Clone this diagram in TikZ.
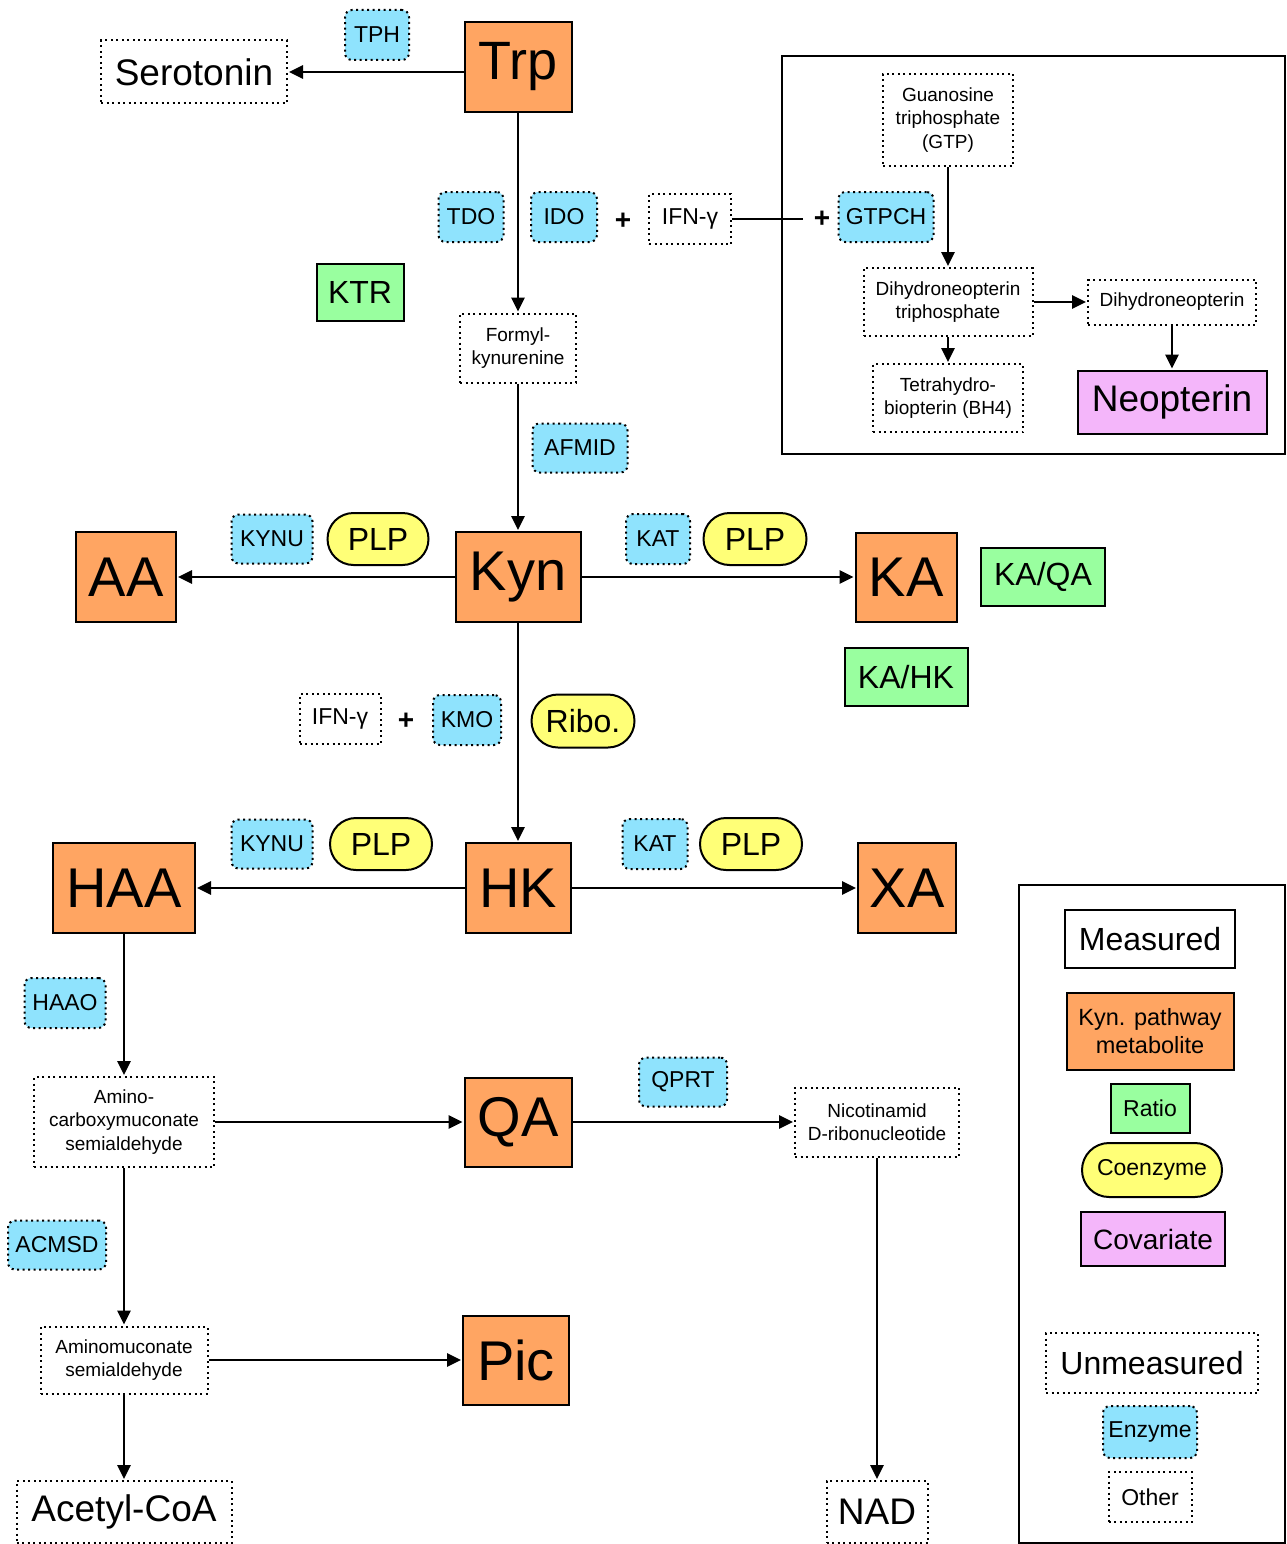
\documentclass[tikz,border=0pt]{standalone}
\usepackage{fontspec}
\setmainfont{Liberation Sans}
\usetikzlibrary{shapes,arrows.meta}

\definecolor{kynorange}{HTML}{FFA562}
\definecolor{ratiogreen}{HTML}{99FF9F}
\definecolor{coyellow}{HTML}{FFFF77}
\definecolor{covpink}{HTML}{F4B6FA}
\definecolor{enzblue}{HTML}{8FE3FD}

\newcommand{\fs}[2]{\fontsize{#1}{#2}\selectfont}

\begin{document}
\begin{tikzpicture}[x=1pt,y=-1pt,>={Triangle[length=14pt,width=13pt]},
  every node/.style={inner sep=0pt},
  sized/.style 2 args={minimum width=#1pt,minimum height=#2pt},
  met/.style={draw,line width=2pt,fill=kynorange,font=\fs{56}{60}},
  ratio/.style={draw,line width=2pt,fill=ratiogreen,font=\fs{32}{36}},
  coenz/.style={draw,line width=2pt,fill=coyellow,rounded rectangle,font=\fs{32}{36}},
  cov/.style={draw,line width=2pt,fill=covpink},
  enz/.style={draw,dash pattern=on 2pt off 3.5pt,line width=2pt,fill=enzblue,rounded corners=7pt,font=\fs{23}{27}},
  other/.style={draw,dash pattern=on 2pt off 3.5pt,line width=2pt,align=center,font=\fs{19}{23.5}},
  plus/.style={font=\bfseries\fs{28}{30}},
  flow/.style={->,line width=2.8pt,shorten >=1pt}]
\useasboundingbox (0,0) rectangle (1287,1544);

% top
\node[met,sized={107}{90},font=\fs{54}{58}](trp) at (518,67) {Trp};
\node[other,sized={186}{63},font=\fs{37}{40}](sero) at (194,72) {Serotonin};
\node[enz,sized={64}{50}](tph) at (377,35) {TPH};
\node[enz,sized={65}{50}](tdo) at (471,217) {TDO};
\node[enz,sized={66}{50}](ido) at (564,217) {IDO};
\node[plus](p1) at (623,221) {+};
\node[other,sized={82}{50},font=\fs{23}{27}](ifn1) at (690,219) {IFN-γ};
\coordinate (ifnend) at (803,219);
\node[plus](p2) at (822,219) {+};
\node[enz,sized={95}{50}](gtpch) at (886,217) {GTPCH};
\node[ratio,sized={87}{57}](ktr) at (360,292) {KTR};
\node[other,sized={116}{69}](formyl) at (518,348) {Formyl-\\kynurenine};
\node[enz,sized={95}{49}](afmid) at (580,448) {AFMID};

% pterin box
\node[draw,line width=2pt,sized={503}{398}](pterin) at (1033.5,255) {};
\node[other,sized={130}{92}](gtp) at (948,120) {Guanosine\\triphosphate\\(GTP)};
\node[other,sized={169}{68}](dhntp) at (948,302) {Dihydroneopterin\\triphosphate};
\node[other,sized={168}{45}](dhn) at (1172,302) {Dihydroneopterin};
\node[other,sized={150}{68}](bh4) at (948,398) {Tetrahydro-\\biopterin (BH4)};
\node[cov,sized={189}{63},font=\fs{37}{40}](neo) at (1172,402) {Neopterin};

% Kyn row
\node[met,sized={125}{90}](kyn) at (518,577) {Kyn};
\node[met,sized={100}{90}](aa) at (126,577) {AA};
\node[met,sized={101}{89}](ka) at (906,577) {KA};
\node[enz,sized={81}{49}](kynu1) at (272,539) {KYNU};
\node[coenz,sized={101}{52}](plp1) at (378,539) {PLP};
\node[enz,sized={64}{50}](kat1) at (658,539) {KAT};
\node[coenz,sized={103}{52}](plp2) at (755,539) {PLP};
\node[ratio,sized={124}{58}](kaqa) at (1043,577) {KA/QA};
\node[ratio,sized={123}{58}](kahk) at (906,677) {KA/HK};
\node[other,sized={81}{50},font=\fs{23}{27}](ifn2) at (340,719) {IFN-γ};
\node[plus](p3) at (406,721) {+};
\node[enz,sized={68}{50}](kmo) at (467,720) {KMO};
\node[coenz,sized={103}{53}](ribo) at (583,721) {Ribo.};

% HK row
\node[met,sized={105}{90}](hk) at (518,888) {HK};
\node[met,sized={142}{90}](haa) at (124,888) {HAA};
\node[met,sized={98}{90}](xa) at (907,888) {XA};
\node[enz,sized={81}{49}](kynu2) at (272,844) {KYNU};
\node[coenz,sized={102}{52}](plp3) at (381,844) {PLP};
\node[enz,sized={65}{50}](kat2) at (655,844) {KAT};
\node[coenz,sized={102}{52}](plp4) at (751,844) {PLP};

% lower part
\node[enz,sized={81}{50}](haao) at (65,1003) {HAAO};
\node[other,sized={180}{90}](amino) at (124,1122) {Amino-\\carboxymuconate\\semialdehyde};
\node[met,sized={107}{89}](qa) at (518,1122) {QA};
\node[enz,sized={88}{49}](qprt) at (683,1082) {QPRT};
\node[other,sized={164}{69}](nicot) at (877,1122) {Nicotinamid\\D-ribonucleotide};
\node[enz,sized={98}{49}](acmsd) at (57,1245) {ACMSD};
\node[other,sized={167}{67}](amuc) at (124,1360) {Aminomuconate\\semialdehyde};
\node[met,sized={106}{89}](pic) at (516,1360) {Pic};
\node[other,sized={215}{62},font=\fs{37}{40}](acoa) at (124,1512) {Acetyl-CoA};
\node[other,sized={101}{62},font=\fs{37}{40}](nad) at (877,1512) {NAD};

% legend
\node[draw,line width=2pt,sized={266}{658}](legend) at (1152,1214) {};
\node[draw,line width=2pt,sized={170}{58},font=\fs{32}{36}](lmeas) at (1150,939) {Measured};
\node[met,sized={167}{77},font=\fs{23.5}{28},align=center](lkyn) at (1150,1031) {Kyn. pathway\\metabolite};
\node[ratio,sized={79}{49},font=\fs{23}{27}](lratio) at (1150,1108) {Ratio};
\node[coenz,sized={140}{54},font=\fs{23}{27}](lcoenz) at (1152,1170) {Coenzyme};
\node[cov,sized={144}{54},font=\fs{28}{32}](lcov) at (1153,1239) {Covariate};
\node[other,sized={212}{60},font=\fs{32}{36}](lunmeas) at (1152,1363) {Unmeasured};
\node[enz,sized={94}{52}](lenz) at (1150,1432) {Enzyme};
\node[other,sized={83}{50},font=\fs{23}{27}](lother) at (1150,1497) {Other};

\draw (trp.west |- sero.east) edge[flow] (sero.east);
\draw (trp) edge[flow] (formyl);
\draw[line width=2.8pt] (ifn1) -- (ifnend);
\draw (gtp) edge[flow] (dhntp);
\draw (dhntp) edge[flow] (dhn);
\draw (dhntp) edge[flow] (bh4);
\draw (dhn) edge[flow] (neo);
\draw (formyl) edge[flow] (kyn);

\draw (kyn) edge[flow] (aa);
\draw (kyn) edge[flow] (ka);
\draw (kyn) edge[flow] (hk);
\draw (hk) edge[flow] (haa);
\draw (hk) edge[flow] (xa);

\draw (haa) edge[flow] (amino);
\draw (amino) edge[flow] (qa);
\draw (qa) edge[flow] (nicot);
\draw (nicot) edge[flow] (nad);
\draw (amino) edge[flow] (amuc);
\draw (amuc) edge[flow] (pic);
\draw (amuc) edge[flow] (acoa);
\end{tikzpicture}
\end{document}
